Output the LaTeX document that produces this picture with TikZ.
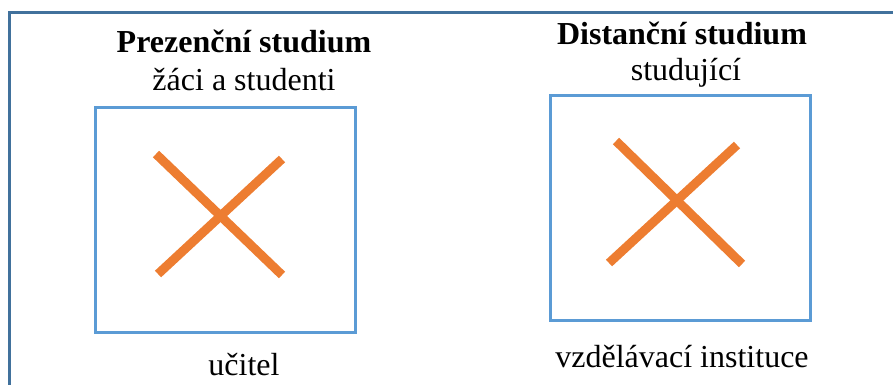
\documentclass[tikz,border=0pt]{standalone}
\usepackage{fontspec}
\setmainfont{Liberation Serif}
\definecolor{ramec}{HTML}{41719C}
\definecolor{okno}{HTML}{5B9BD5}
\definecolor{krizek}{HTML}{ED7D31}
\tikzset{
  txt/.style={anchor=base,inner sep=0pt,font=\fontsize{32}{38}\selectfont},
  nadpis/.style={txt,font=\fontsize{32}{38}\selectfont\bfseries},
  okno/.style={draw=okno,line width=3pt,inner sep=0pt,minimum width=260pt,minimum height=224pt},
  krizek/.style={draw=krizek,line width=9pt}
}
\begin{document}
\begin{tikzpicture}[x=1pt,y=-1pt,line join=miter]
	\useasboundingbox (0,0) rectangle (893,385);
	\draw[ramec,line width=3pt] (9,385)--(9,13)--(893,13);
	\node[okno] (prez) at (225,220) {};
	\node[okno] (dist) at (680,208) {};
	\draw[krizek] (156,154)--(282,275);
	\draw[krizek] (158,274)--(282,159);
	\draw[krizek] (616,141)--(742,264);
	\draw[krizek] (609,263)--(737,145);
	\node[nadpis] (prezT) at (244,53) {Prezenční studium};
	\node[txt] (zaci) at (244,91) {žáci a studenti};
	\node[txt] (ucitel) at (244,375) {učitel};
	\node[nadpis] (distT) at (682,45) {Distanční studium};
	\node[txt] (stud) at (686,81) {studující};
	\node[txt] (inst) at (682,367) {vzdělávací instituce};
\end{tikzpicture}
\end{document}
